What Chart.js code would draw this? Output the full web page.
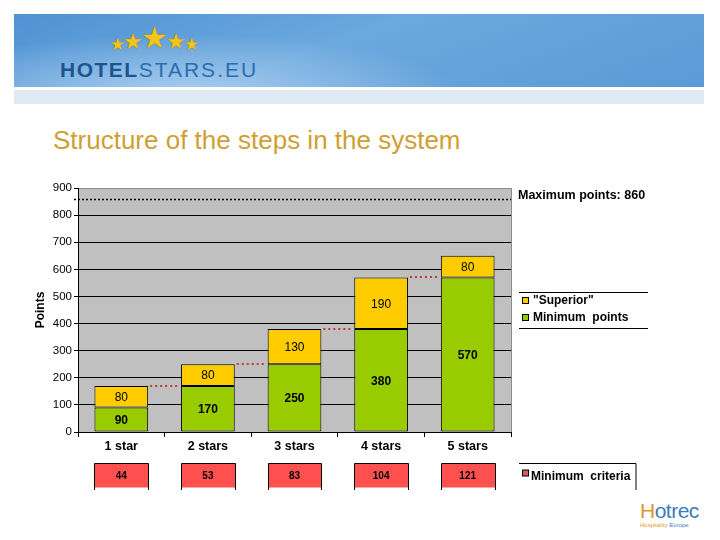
<!DOCTYPE html>
<html>
<head>
<meta charset="utf-8">
<script src="https://cdn.jsdelivr.net/npm/chart.js@4/dist/chart.umd.min.js"></script>
<style>
  body { margin: 0; width: 720px; height: 540px; overflow: hidden; background: #fff; font-family: Arial, "Liberation Sans", sans-serif; }
  #banner { position: absolute; left: 14px; top: 14px; width: 690px; height: 73px;
    background: radial-gradient(ellipse 280px 60px at 170px 80px, #a9cdee 0%, rgba(169,205,238,0) 100%),
                linear-gradient(160deg, #4f92d3 0%, #6ba8de 45%, #5b9ad6 100%); }
  #strip { position: absolute; left: 14px; top: 90px; width: 690px; height: 14px; background: #e0eaf5; }
  #stars { position: absolute; left: 110px; top: 20px; color: #f6c51a; text-shadow: 0 0 1px #7a5a00; white-space: nowrap; }
  #stars span { display: inline-block; vertical-align: bottom; margin-right: -2px; }
  #logo { position: absolute; left: 60px; top: 58px; font-size: 21px; letter-spacing: 2px; color: #2a6db0; white-space: nowrap; }
  #logo b { color: #1d5491; letter-spacing: 1.5px; }
  #title { position: absolute; left: 53px; top: 127px; font-size: 26px; line-height: 26px; color: #cf9f33; white-space: nowrap; }
  #hotrec { position: absolute; left: 640px; top: 500px; white-space: nowrap; }
  #hotrec .big { font-size: 21px; line-height: 21px; color: #3b7cbc; letter-spacing: -0.5px; }
  #hotrec .big span { color: #e0962e; }
  #hotrec .small { font-size: 6px; color: #e0962e; margin-top: 1px; }
  #hotrec .small span { color: #3b7cbc; }
  #chart { position: absolute; left: 0; top: 0; }
</style>
</head>
<body>
<div id="banner"></div>
<div id="strip"></div>
<div id="stars"><span style="font-size:17px">★</span><span style="font-size:22px">★</span><span style="font-size:30px">★</span><span style="font-size:22px">★</span><span style="font-size:17px">★</span></div>
<div id="logo"><b>HOTEL</b>STARS.EU</div>
<div id="title">Structure of the steps in the system</div>
<div id="hotrec"><div class="big"><span>H</span>otrec</div><div class="small">Hospitality <span>Europe</span></div></div>
<canvas id="chart" width="720" height="540"></canvas>
<script>
const categories = ['1 star', '2 stars', '3 stars', '4 stars', '5 stars'];
const minimumPoints = [90, 170, 250, 380, 570];
const superiorPoints = [80, 80, 130, 190, 80];
const minimumCriteria = [44, 53, 83, 104, 121];
const maximumPoints = 860;
const yMax = 900;
const yStep = 100;

const FONT = 'Arial, "Liberation Sans", sans-serif';
const GREEN = '#99cc00';
const YELLOW = '#ffcc00';
const RED = '#ff5050';

// grey plot background + right frame
const plotBackground = {
  id: 'plotBackground',
  beforeDraw(chart) {
    const { ctx, chartArea: a } = chart;
    ctx.save();
    ctx.fillStyle = '#c0c0c0';
    ctx.fillRect(a.left, a.top, a.right - a.left, a.bottom - a.top);
    ctx.strokeStyle = '#8c8c8c';
    ctx.lineWidth = 1;
    ctx.beginPath();
    ctx.moveTo(a.right + 0.5, a.top);
    ctx.lineTo(a.right + 0.5, a.bottom);
    ctx.stroke();
    ctx.restore();
  }
};

const extras = {
  id: 'extras',
  afterDatasetsDraw(chart) {
    const { ctx, chartArea: a, scales } = chart;
    const y = scales.y;
    const green = chart.getDatasetMeta(0).data;
    const yellow = chart.getDatasetMeta(1).data;

    // values inside the bars
    ctx.save();
    ctx.textAlign = 'center';
    ctx.textBaseline = 'middle';
    ctx.fillStyle = '#000';
    green.forEach((bar, i) => {
      ctx.font = 'bold 12px ' + FONT;
      ctx.fillText(minimumPoints[i], bar.x, (bar.y + bar.base) / 2 + 1);
    });
    yellow.forEach((bar, i) => {
      ctx.font = '12px ' + FONT;
      ctx.fillText(superiorPoints[i], bar.x, (bar.y + bar.base) / 2 + 1);
    });

    // red dotted steps between bars
    ctx.strokeStyle = '#c0393b';
    ctx.lineWidth = 2;
    ctx.setLineDash([2, 3]);
    for (let i = 0; i < categories.length - 1; i++) {
      const py = Math.round(y.getPixelForValue(minimumPoints[i] + superiorPoints[i]));
      const x1 = yellow[i].x + yellow[i].width / 2 + 2;
      const x2 = yellow[i + 1].x - yellow[i + 1].width / 2 - 1;
      ctx.beginPath();
      ctx.moveTo(x1, py);
      ctx.lineTo(x2, py);
      ctx.stroke();
    }

    // maximum points line
    const my = Math.round(y.getPixelForValue(maximumPoints)) + 0.5;
    ctx.strokeStyle = '#000';
    ctx.lineWidth = 1.5;
    ctx.setLineDash([2, 2]);
    ctx.beginPath();
    ctx.moveTo(a.left - 4, my);
    ctx.lineTo(a.right, my);
    ctx.stroke();
    ctx.setLineDash([]);
    ctx.textAlign = 'left';
    ctx.font = 'bold 12.5px ' + FONT;
    ctx.fillText('Maximum points: ' + maximumPoints, a.right + 7, my - 4);
    ctx.restore();
  },
  afterDraw(chart) {
    const { ctx, chartArea: a } = chart;
    const bars = chart.getDatasetMeta(1).data;
    ctx.save();

    // legend box on the right
    const lx = a.right + 8;
    ctx.strokeStyle = '#000';
    ctx.lineWidth = 1;
    ctx.beginPath();
    ctx.moveTo(lx, 292.5); ctx.lineTo(lx + 129, 292.5);
    ctx.moveTo(lx, 328.5); ctx.lineTo(lx + 129, 328.5);
    ctx.stroke();
    const items = [[chart.data.datasets[1].label, YELLOW, 301], [chart.data.datasets[0].label, GREEN, 318]];
    ctx.font = 'bold 12px ' + FONT;
    ctx.textBaseline = 'middle';
    items.forEach(([label, color, yy]) => {
      ctx.fillStyle = color;
      ctx.fillRect(lx + 3.5, yy - 3.5, 6, 6);
      ctx.strokeRect(lx + 3.5, yy - 3.5, 6, 6);
      ctx.fillStyle = '#000';
      ctx.fillText(label, lx + 14, yy);
    });

    // minimum criteria row
    const top = 463.5;
    ctx.textAlign = 'center';
    ctx.font = 'bold 10px ' + FONT;
    bars.forEach((bar, i) => {
      const l = Math.round(bar.x - bar.width / 2) + 0.5;
      const r = Math.round(bar.x + bar.width / 2) + 0.5;
      ctx.fillStyle = RED;
      ctx.fillRect(l, top, r - l, 24);
      ctx.beginPath();
      ctx.moveTo(l, 490); ctx.lineTo(l, top); ctx.lineTo(r, top); ctx.lineTo(r, 490);
      ctx.stroke();
      ctx.fillStyle = '#000';
      ctx.fillText(minimumCriteria[i], bar.x, top + 13);
    });
    ctx.beginPath();
    ctx.moveTo(lx, top); ctx.lineTo(lx + 117, top); ctx.lineTo(lx + 117, 490);
    ctx.stroke();
    ctx.fillStyle = '#d06060';
    ctx.fillRect(lx + 3.5, top + 6.5, 6, 6);
    ctx.strokeRect(lx + 3.5, top + 6.5, 6, 6);
    ctx.fillStyle = '#000';
    ctx.textAlign = 'left';
    ctx.font = 'bold 12px ' + FONT;
    ctx.fillText('Minimum  criteria', lx + 12, top + 13);
    ctx.restore();
  }
};

new Chart(document.getElementById('chart'), {
  type: 'bar',
  data: {
    labels: categories,
    datasets: [
      { label: 'Minimum  points', data: minimumPoints, backgroundColor: GREEN },
      { label: '"Superior"', data: superiorPoints, backgroundColor: YELLOW }
    ]
  },
  options: {
    responsive: false,
    animation: false,
    layout: { padding: { top: 188, right: 209, bottom: 80, left: 33 } },
    datasets: {
      bar: { borderColor: '#000', borderWidth: 1, borderSkipped: false, barPercentage: 0.62, categoryPercentage: 1 }
    },
    plugins: { legend: { display: false }, tooltip: { enabled: false } },
    scales: {
      x: {
        stacked: true,
        afterFit(s) { s.height = 28; },
        grid: { offset: true, drawOnChartArea: false, tickLength: 5, color: '#000' },
        border: { color: '#000' },
        ticks: { color: '#000', font: { family: FONT, size: 12.5, weight: 'bold' }, padding: 2 }
      },
      y: {
        stacked: true,
        min: 0,
        max: yMax,
        afterFit(s) { s.width = 45; },
        title: { display: true, text: 'Points', color: '#000', font: { family: FONT, size: 12, weight: 'bold' }, padding: 0 },
        grid: { color: (c) => (c.tick && c.tick.value === yMax ? '#8c8c8c' : '#000'), tickLength: 4, tickColor: '#000' },
        border: { color: '#000' },
        ticks: { stepSize: yStep, color: '#000', font: { family: FONT, size: 11.5 }, padding: 2 }
      }
    }
  },
  plugins: [plotBackground, extras]
});
</script>
</body>
</html>
